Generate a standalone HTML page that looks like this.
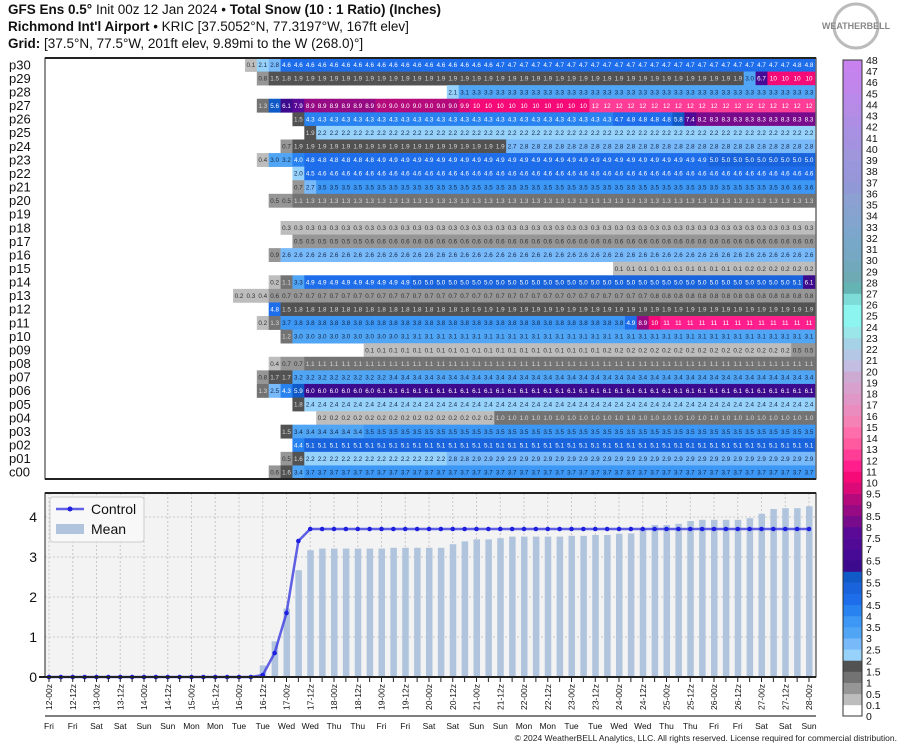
<!DOCTYPE html>
<html><head><meta charset="utf-8"><style>
html,body{margin:0;padding:0;background:#fff;}
svg{display:block;font-family:"Liberation Sans","DejaVu Sans",sans-serif;}
</style></head><body>
<svg id="root" width="913" height="750" viewBox="0 0 913 750">
<g font-size="13.5" fill="#111">
<text x="8" y="14"><tspan font-weight="bold">GFS Ens 0.5°</tspan> Init 00z 12 Jan 2024 • <tspan font-weight="bold">Total Snow (10 : 1 Ratio) (Inches)</tspan></text>
<text x="8" y="31"><tspan font-weight="bold">Richmond Int'l Airport</tspan> • KRIC [37.5052°N, 77.3197°W, 167ft elev]</text>
<text x="8" y="48"><tspan font-weight="bold">Grid:</tspan> [37.5°N, 77.5°W, 201ft elev, 9.89mi to the W (268.0)°]</text>
</g>
<g>
<circle cx="856" cy="26" r="22" fill="none" stroke="#bbb" stroke-width="3"/>
<text x="856" y="29" text-anchor="middle" font-size="9" font-weight="bold" fill="#888">WEATHERBELL</text>
</g>
<g id="heat"></g>
<g id="cbar"></g>
<g id="chart"></g>
<text x="897" y="741" text-anchor="end" font-size="8.5" fill="#222">© 2024 WeatherBELL Analytics, LLC. All rights reserved. License required for commercial distribution.</text>
</svg>
<script>
const rowLabels=["p30","p29","p28","p27","p26","p25","p24","p23","p22","p21","p20","p19","p18","p17","p16","p15","p14","p13","p12","p11","p10","p09","p08","p07","p06","p05","p04","p03","p02","p01","c00"];
const rowStarts=[17,18,34,18,21,22,20,18,21,21,19,65,20,21,19,48,19,16,19,18,20,27,19,18,18,21,23,20,21,20,19];
const rowRuns=[
[[0.1,1],[2.1,1],[2.8,1],[4.6,18],[4.7,25],[4.8,2]],
[[0.8,1],[1.5,1],[1.8,1],[1.9,38],[3.0,1],[6.7,1],[10,4]],
[[2.1,1],[3.1,1],[3.3,29]],
[[1.3,1],[5.6,1],[6.1,1],[7.9,1],[8.9,6],[9.0,7],[9.9,1],[10,10],[12,19]],
[[1.5,1],[4.3,26],[4.7,1],[4.8,4],[5.8,1],[7.4,1],[8.2,1],[8.3,9]],
[[1.9,1],[2.2,42]],
[[0.7,1],[1.9,18],[2.7,1],[2.8,25]],
[[0.4,1],[3.0,1],[3.2,1],[4.0,1],[4.8,6],[4.9,28],[5.0,9]],
[[2.0,1],[4.5,1],[4.6,42]],
[[0.7,1],[2.7,1],[3.5,39],[3.6,3]],
[[0.5,2],[1.1,1],[1.3,43]],
[],
[[0.3,45]],
[[0.5,6],[0.6,38]],
[[0.9,1],[2.6,45]],
[[0.1,11],[0.2,6]],
[[0.2,1],[1.1,1],[3.3,1],[4.9,9],[5.0,32],[5.1,1],[6.1,1]],
[[0.2,1],[0.3,1],[0.4,1],[0.6,1],[0.7,31],[0.8,14]],
[[4.8,1],[1.5,1],[1.8,15],[1.9,29]],
[[0.2,1],[1.3,1],[3.7,1],[3.8,28],[4.9,1],[8.9,1],[10,1],[11,13]],
[[1.2,1],[3.0,9],[3.1,35]],
[[0.1,20],[0.2,16],[0.5,2]],
[[0.4,1],[0.7,2],[1.1,43]],
[[0.8,1],[1.7,2],[3.2,8],[3.4,36]],
[[1.3,1],[2.5,1],[4.3,1],[5.9,1],[6.0,6],[6.1,37]],
[[1.8,1],[2.4,43]],
[[0.2,15],[1.0,27]],
[[1.5,1],[3.4,6],[3.5,38]],
[[4.4,1],[5.1,43]],
[[0.5,1],[1.6,1],[2.2,12],[2.8,2],[2.9,29]],
[[0.6,1],[1.6,1],[3.4,1],[3.7,43]]
];
const timeLabels=["12-00z","12-12z","13-00z","13-12z","14-00z","14-12z","15-00z","15-12z","16-00z","16-12z","17-00z","17-12z","18-00z","18-12z","19-00z","19-12z","20-00z","20-12z","21-00z","21-12z","22-00z","22-12z","23-00z","23-12z","24-00z","24-12z","25-00z","25-12z","26-00z","26-12z","27-00z","27-12z","28-00z"];
const dayLabels=["Fri","Fri","Sat","Sat","Sun","Sun","Mon","Mon","Tue","Tue","Wed","Wed","Thu","Thu","Fri","Fri","Sat","Sat","Sun","Sun","Mon","Mon","Tue","Tue","Wed","Wed","Thu","Thu","Fri","Fri","Sat","Sat","Sun"];
const controlValues=[0,0,0,0,0,0,0,0,0,0,0,0,0,0,0,0,0,0,0.05,0.6,1.6,3.4,3.7,3.7,3.7,3.7,3.7,3.7,3.7,3.7,3.7,3.7,3.7,3.7,3.7,3.7,3.7,3.7,3.7,3.7,3.7,3.7,3.7,3.7,3.7,3.7,3.7,3.7,3.7,3.7,3.7,3.7,3.7,3.7,3.7,3.7,3.7,3.7,3.7,3.7,3.7,3.7,3.7,3.7,3.7];
const meanValues=[0,0,0,0,0,0,0,0,0,0,0,0,0,0,0,0,0,0,0.29,0.89,1.71,2.67,3.17,3.21,3.21,3.21,3.21,3.21,3.21,3.23,3.23,3.23,3.23,3.23,3.32,3.39,3.44,3.44,3.47,3.51,3.51,3.51,3.51,3.51,3.53,3.53,3.55,3.55,3.58,3.59,3.70,3.80,3.80,3.83,3.90,3.93,3.93,3.93,3.93,3.97,4.08,4.20,4.22,4.22,4.27];
const yTicks=[0,1,2,3,4];
const cbarEdges=[0,0.1,0.5,1,1.5,2,2.5,3,3.5,4,4.5,5,5.5,6,6.5,7,7.5,8,8.5,9,9.5,10,11,12,13,14,15,16,17,18,19,20,21,22,23,24,25,26,27,28,29,30,31,32,33,34,35,36,37,38,39,40,41,42,43,44,45,46,47,48];
const cbarColors=["#ffffff","#bdbdbd","#969696","#737373","#525252","#96d2fa","#78b9fa","#50a5f5","#3c97f5","#2882f0","#1e6eeb","#1964dc","#105ac8","#3c0a8c","#460a96","#500a96","#5a0a96","#780a8c","#960a84","#b40a7c","#dc0a78","#f50a78","#ff1e8c","#ff3c96","#ff5aa0","#ff6eaa","#f582b4","#eb8cbe","#e196c8","#d7a0cd","#cdaad2","#c3bee1","#b4c8e6","#a5d2e6","#9be6e8","#8cf5f0","#8cf5f0","#7ddcd7","#64b4b4","#6eaab4","#72a8bc","#76a8c4","#78a8c8","#7ca6cc","#82a4ce","#88a2d0","#8ca0d2","#9099d6","#9696d8","#9a96dc","#a096dc","#a492e0","#a890e2","#ae8ee4","#b48ce6","#ba8aea","#c086ec","#c484ee","#c882f0"];
const NS="http://www.w3.org/2000/svg";
function mk(tag,attrs,parent){const e=document.createElementNS(NS,tag);for(const k in attrs)e.setAttribute(k,attrs[k]);parent.appendChild(e);return e;}
const X0=49,DX=11.875;
function xPos(i){return X0+i*DX;}
function colorFor(v){let c=cbarColors[0];for(let k=0;k<cbarEdges.length-1;k++){if(v>=cbarEdges[k]-1e-9)c=cbarColors[k];}return c;}
function textColor(v){if(v<1)return "#333";if(v<2)return "#d8d8d8";if(v<4)return "#14284a";if(v>=18&&v<21)return "#333";return "#fff";}
function fmt(v){return v>=10?String(Math.round(v)):v.toFixed(1);}
// heatmap
const heat=document.getElementById('heat');
const HT=58,HB=479,RH=(HB-HT)/rowLabels.length;
rowLabels.forEach((lab,r)=>{
  const yTop=HT+r*RH;
  const t=mk('text',{x:9,y:yTop+RH/2+4.5,'font-size':13,fill:'#111'},heat);
  t.textContent=lab;
  
  
  let i=rowStarts[r];
  rowRuns[r].forEach(run=>{
    for(let n=0;n<run[1];n++){
      const v=run[0];
      const cx=xPos(i);
      const rc=mk('rect',{x:cx-DX/2,y:yTop,width:DX+0.3,height:RH+0.3,fill:colorFor(v)},heat);
      
      
      const tt=mk('text',{x:cx,y:yTop+RH/2+2.3,'font-size':6.3,'text-anchor':'middle',fill:textColor(v)},heat);
      tt.textContent=fmt(v);
      
      
      i++;
    }
  });
});
const hf=mk('rect',{x:45,y:HT,width:816-45,height:HB-HT,fill:'none',stroke:'#222','stroke-width':1},heat);


mk('line',{x1:45,x2:816,y1:HT,y2:HT,stroke:'#222','stroke-width':2},heat);
mk('line',{x1:45,x2:816,y1:HB,y2:HB,stroke:'#222','stroke-width':2},heat);
// colorbar
const cb=document.getElementById('cbar');
const CB0=716,CB1=60,nb=cbarEdges.length-1,bh=(CB0-CB1)/nb;
for(let k=0;k<nb;k++){
  const r=mk('rect',{x:843,y:CB0-(k+1)*bh,width:19,height:bh+0.3,fill:cbarColors[k]},cb);
  
  
}
mk('rect',{x:843,y:CB1,width:19,height:CB0-CB1,fill:'none',stroke:'#333','stroke-width':1},cb);
cbarEdges.forEach((e,k)=>{
  const t=mk('text',{x:866,y:CB0-k*bh+4,'font-size':10.5,fill:'#111'},cb);
  t.textContent=String(e);
  
  
});
// line chart
const ch=document.getElementById('chart');
const PT=493,PB=677,PL=45,PR=816;
function yPos(v){return PB-v*40;}
const bg=mk('rect',{x:PL,y:PT,width:PR-PL,height:PB-PT,fill:'#f3f3f3'},ch);


for(let j=0;j<timeLabels.length;j++){
  const gx=xPos(j*2);
  mk('line',{x1:gx,x2:gx,y1:PT,y2:PB,stroke:'#c8c8c8','stroke-dasharray':'2,2','stroke-width':1},ch);
}
yTicks.forEach(v=>{
  if(v>0)mk('line',{x1:PL,x2:PR,y1:yPos(v),y2:yPos(v),stroke:'#c8c8c8','stroke-dasharray':'2,2','stroke-width':1},ch);
  const t=mk('text',{x:PL-8,y:yPos(v)+5,'font-size':14,'text-anchor':'end',fill:'#111'},ch);
  t.textContent=String(v);
  
  
});
meanValues.forEach((v,i)=>{
  if(v<=0)return;
  const b=mk('rect',{x:xPos(i)-3,y:yPos(v),width:6.5,height:PB-yPos(v),fill:'#b0c4de'},ch);
  
  
});
const pts=controlValues.map((v,i)=>xPos(i)+','+yPos(v)).join(' ');
const pl=mk('polyline',{points:pts,fill:'none',stroke:'#3a3ae0','stroke-width':2.5,'stroke-opacity':0.8},ch);


controlValues.forEach((v,i)=>{
  const c=mk('circle',{cx:xPos(i),cy:yPos(v),r:2.3,fill:'#1f1fe0'},ch);
  
  
});
mk('rect',{x:PL,y:PT,width:PR-PL,height:PB-PT,fill:'none',stroke:'#222','stroke-width':1},ch);
mk('line',{x1:PL,x2:PR,y1:PT,y2:PT,stroke:'#222','stroke-width':2},ch);
mk('line',{x1:PL-6,x2:PR,y1:PB,y2:PB,stroke:'#222','stroke-width':2},ch);
for(let i=0;i<65;i++){mk('line',{x1:xPos(i),x2:xPos(i),y1:PB,y2:PB+5,stroke:'#222','stroke-width':1},ch);}
timeLabels.forEach((lab,j)=>{
  const gx=xPos(j*2);
  const t=mk('text',{x:0,y:0,'font-size':8.5,'text-anchor':'end',fill:'#111',transform:'translate('+(gx+3)+','+(PB+7)+') rotate(-90)'},ch);
  t.textContent=lab;
  
  
  const d=mk('text',{x:gx,y:729,'font-size':8.5,'text-anchor':'middle',fill:'#111'},ch);
  d.textContent=dayLabels[j];
  
  
});
mk('line',{x1:PL,x2:PR,y1:716,y2:716,stroke:'#555','stroke-width':1.5},ch);
// legend
const lg=mk('g',{},ch);


mk('rect',{x:50,y:497,width:94,height:45,fill:'#f8f8f8',stroke:'#ccc',rx:3},lg);
mk('line',{x1:56,x2:84,y1:509,y2:509,stroke:'#3a3ae0','stroke-width':2.5,'stroke-opacity':0.8},lg);
mk('circle',{cx:70,cy:509,r:2.5,fill:'#1f1fe0'},lg);
const l1=mk('text',{x:91,y:514,'font-size':14,fill:'#111'},lg);l1.textContent='Control';


mk('rect',{x:56,y:524,width:28,height:10,fill:'#b0c4de'},lg);
const l2=mk('text',{x:91,y:534,'font-size':14,fill:'#111'},lg);l2.textContent='Mean';


</script>
</body></html>
